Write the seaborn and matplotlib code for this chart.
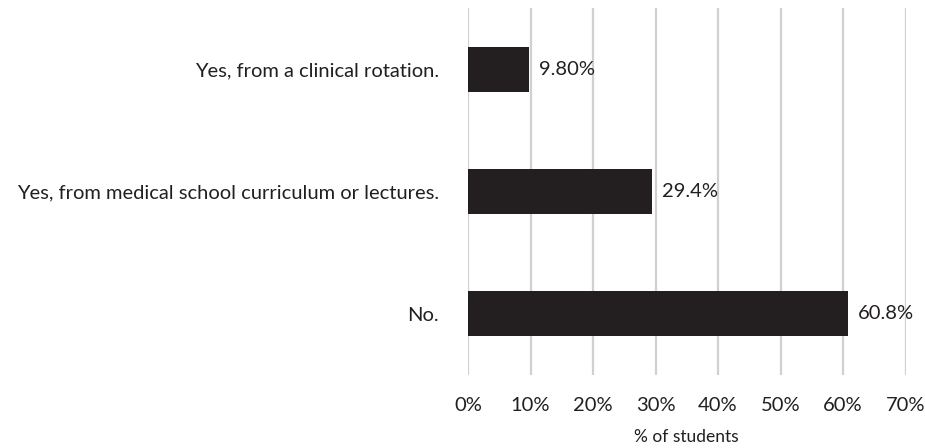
import matplotlib
matplotlib.use('Agg')
import matplotlib.pyplot as plt
import seaborn as sns
import pandas as pd

# Data
answers = ['Yes, from a clinical rotation.',
           'Yes, from medical school curriculum or lectures.',
           'No.']
percent = [9.8, 29.4, 60.8]
value_labels = ['9.80%', '29.4%', '60.8%']
x_ticks = [0, 10, 20, 30, 40, 50, 60, 70]

df = pd.DataFrame({'answer': answers, 'percent': percent})

sns.set_style('white')
plt.rcParams['font.family'] = ['Lato', 'DejaVu Sans']

fig = plt.figure(figsize=(9.25, 4.48), dpi=100)
ax = fig.add_axes([0.506, 0.163, 0.473, 0.819])

sns.barplot(data=df, x='percent', y='answer', color='#231f20',
            width=0.37, saturation=1, linewidth=0, ax=ax, zorder=3)

for i, (v, lab) in enumerate(zip(percent, value_labels)):
    ax.text(v + 1.6, i, lab, va='center', ha='left', fontsize=14.5, color='#231f20')

ax.set_xlim(0, 70)
ax.set_ylim(2.5, -0.5)
ax.set_xticks(x_ticks)
ax.set_xticklabels([f'{t}%' for t in x_ticks], fontsize=14.5, color='#231f20')
ax.tick_params(axis='x', length=0, pad=16)
ax.tick_params(axis='y', length=0, pad=21, labelsize=14.5, labelcolor='#231f20')
ax.xaxis.grid(True, color='#d0d0d0', linewidth=1.6, zorder=0)
ax.yaxis.grid(False)
for s in ax.spines.values():
    s.set_visible(False)
ax.set_ylabel('')
ax.set_xlabel('% of students', fontsize=12.5, color='#231f20', labelpad=11)

fig.savefig('out.png', dpi=100)
